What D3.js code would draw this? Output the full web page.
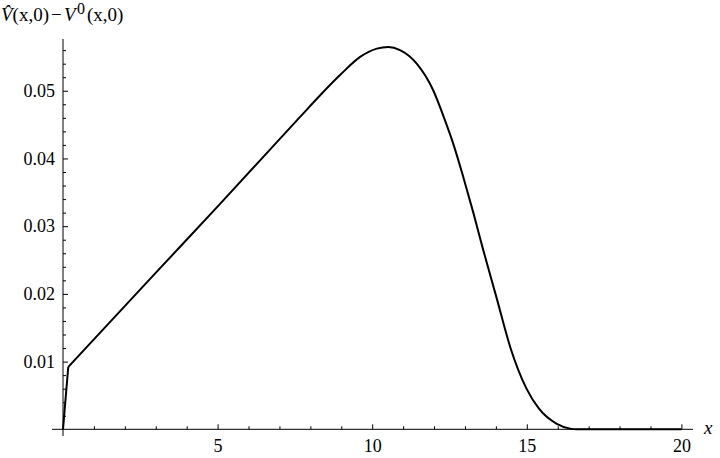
<!DOCTYPE html>
<meta charset="utf-8">
<head>
    <script type="text/javascript" src="https://cdn.jsdelivr.net/npm/d3@7"></script>
	<style>
  body { margin: 0; background: #fff; }
  .tick text { font-family: "Liberation Serif", "Times New Roman", serif; font-size: 18px; fill: #000; }
  .tick line { stroke: #000; stroke-width: 1; }
  .curve { fill: none; stroke: #000; stroke-width: 2; stroke-linejoin: round; }
  .lbl { font-family: "Liberation Serif", "Times New Roman", serif; font-size: 19px; fill: #000; }
	</style>
</head>
<body>
<div id="chart"></div>
<script>
    // values
    var xs = [0, 0.17, 3.08, 5.08, 7.66, 8.31, 9.0, 9.61, 10.15, 10.52, 10.90, 11.44, 11.98, 12.30, 12.62, 12.95, 13.27, 13.59, 14.03, 14.46, 14.99, 15.40, 15.97, 16.4, 16.6, 20];
    var ys = [0, 0.0092, 0.0235, 0.0333, 0.0461, 0.0493, 0.0525, 0.0550, 0.05622, 0.05646, 0.0560, 0.0540, 0.0500, 0.0463, 0.0422, 0.0372, 0.0320, 0.0265, 0.0193, 0.0122, 0.0060, 0.0030, 0.0008, 0.0001, 0, 0];
    var xTicks = [5, 10, 15, 20];
    var yTicks = [0.01, 0.02, 0.03, 0.04, 0.05];

    var w = 720, h = 458;
    var svg = d3.select("#chart").append("svg").attr("width", w).attr("height", h);

    var x = d3.scaleLinear().domain([0, 20]).range([63, 681.4]);
    var y = d3.scaleLinear().domain([0, 0.0576]).range([429.3, 39.3]);

    // minor ticks
    var xMinor = d3.range(1, 21).filter(function(d){ return d % 5 != 0; });
    var yMinor = d3.range(1, 29).map(function(d){ return d * 0.002; }).filter(function(d, i){ return (i + 1) % 5 != 0; });

    svg.append("g").attr("transform", "translate(0," + y(0) + ")")
        .call(d3.axisBottom(x).tickValues(xMinor).tickSize(-3).tickFormat(""))
        .call(function(g){ g.select(".domain").remove(); });
    svg.append("g").attr("transform", "translate(0," + y(0) + ")")
        .call(d3.axisBottom(x).tickValues(xTicks).tickSize(-5).tickPadding(10).tickFormat(d3.format("d")))
        .call(function(g){ g.select(".domain").remove(); });

    svg.append("g").attr("transform", "translate(" + x(0) + ",0)")
        .call(d3.axisLeft(y).tickValues(yMinor).tickSize(-3).tickFormat(""))
        .call(function(g){ g.select(".domain").remove(); });
    svg.append("g").attr("transform", "translate(" + x(0) + ",0)")
        .call(d3.axisLeft(y).tickValues(yTicks).tickSize(-5).tickPadding(8).tickFormat(d3.format(".2f")))
        .call(function(g){ g.select(".domain").remove(); });

    // axis lines
    svg.append("line").attr("x1", 52).attr("x2", 693).attr("y1", y(0)).attr("y2", y(0)).attr("stroke", "#000");
    svg.append("line").attr("x1", x(0)).attr("x2", x(0)).attr("y1", 39).attr("y2", 436).attr("stroke", "#000");

    var pts = xs.map(function(d, i){ return [d, ys[i]]; });

    svg.append("path").attr("class", "curve")
        .attr("d", d3.line().x(function(d){ return x(d[0]); }).y(function(d){ return y(d[1]); })(pts.slice(0, 2)));
    svg.append("path").attr("class", "curve")
        .attr("d", d3.line().curve(d3.curveMonotoneX).x(function(d){ return x(d[0]); }).y(function(d){ return y(d[1]); })(pts.slice(1)));

    // axis labels
    var t = svg.append("text").attr("class", "lbl").attr("y", 21);
    t.append("tspan").attr("x", 1).attr("font-style", "italic").text("V\u0302");
    t.append("tspan").attr("dx", 0).text("(x,0)");
    t.append("tspan").attr("x", 51).text("\u2212");
    t.append("tspan").attr("x", 64).attr("font-style", "italic").text("V");
    t.append("tspan").attr("x", 77).attr("dy", -7).attr("font-size", "16px").text("0");
    t.append("tspan").attr("x", 87).attr("dy", 7).text("(x,0)");

    svg.append("text").attr("class", "lbl").attr("font-style", "italic")
        .attr("x", 704).attr("y", 434).text("x");
</script>
</body>
</html>
